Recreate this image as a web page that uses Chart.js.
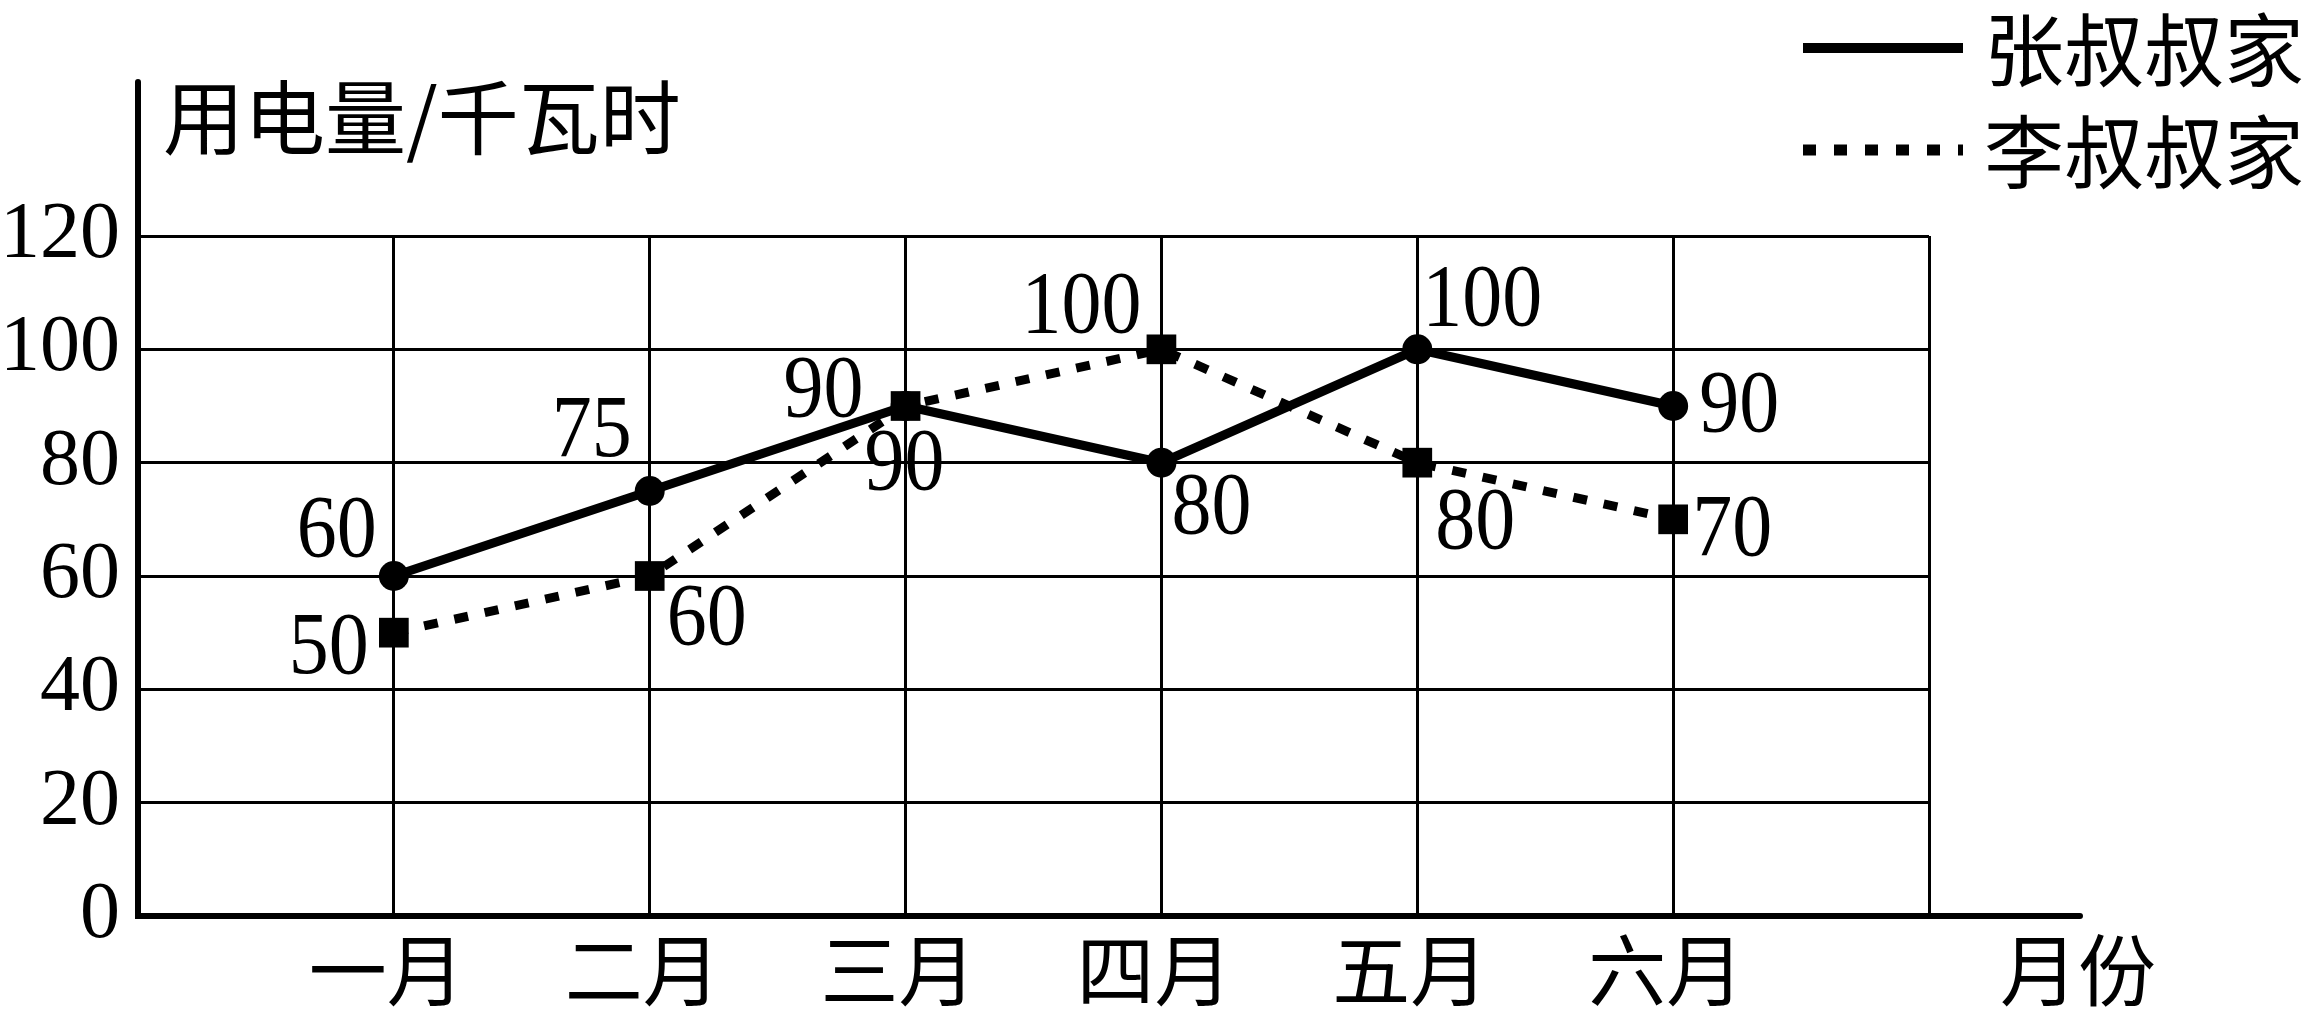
<!DOCTYPE html>
<html>
<head>
<meta charset="utf-8">
<script src="https://cdn.jsdelivr.net/npm/chart.js@4.4.1/dist/chart.umd.min.js"></script>
<style>
  html, body { margin: 0; padding: 0; background: #ffffff; }
  #wrap { width: 2317px; height: 1017px; position: relative; }
</style>
</head>
<body>
<div id="wrap"><canvas id="c" width="2317" height="1017"></canvas></div>
<script>
// ---- data ----
const categories = ['一月', '二月', '三月', '四月', '五月', '六月'];
const zhangValues = [60, 75, 90, 80, 100, 90];
const liValues = [50, 60, 90, 100, 80, 70];
const yTickValues = [0, 20, 40, 60, 80, 100, 120];
const seriesNames = ['张叔叔家', '李叔叔家'];
const yAxisTitle = '用电量/千瓦时';
const xAxisTitle = '月份';

// ---- label placement (layout only, offsets from each point) ----
const zhangLabelOffsets = [[-57, -49], [-58, -64], [-82, -19], [50, 42], [65, -53], [66, -4]];
const liLabelOffsets = [[-65, 12], [57, 39], [-1, 54], [-80, -46], [58, 57], [59, 7]];

const NUM_FONT = '"Liberation Serif", "Times New Roman", serif';
const CJK_FONT = '"Noto Sans CJK SC", "Noto Sans", sans-serif';
const DASH = [14, 17];

const toPoints = vals => vals.map((v, i) => ({ x: i + 1, y: v }));

const overlay = {
  id: 'overlay',
  afterDraw(chart) {
    const ctx = chart.ctx;
    const area = chart.chartArea;
    const xs = chart.scales.x, ys = chart.scales.y;
    ctx.save();
    // axis extensions beyond the grid
    ctx.strokeStyle = '#000';
    ctx.lineWidth = 6;
    ctx.lineCap = 'round';
    ctx.beginPath();
    ctx.moveTo(area.left, area.top);
    ctx.lineTo(area.left, 82);
    ctx.moveTo(area.right, area.bottom);
    ctx.lineTo(2080, area.bottom);
    ctx.stroke();

    // axis titles
    ctx.fillStyle = '#000';
    ctx.font = '81px ' + CJK_FONT;
    ctx.textAlign = 'left';
    ctx.textBaseline = 'middle';
    ctx.fillText(yAxisTitle, 163, 117);
    ctx.font = '78px ' + CJK_FONT;
    ctx.textAlign = 'center';
    ctx.fillText(xAxisTitle, 2078, 970);

    // legend
    const ds = chart.data.datasets;
    const legendRows = [48, 150];
    ds.forEach((d) => {
      const idx = seriesNames.indexOf(d.label);
      const y = legendRows[idx];
      ctx.save();
      ctx.strokeStyle = '#000';
      ctx.lineWidth = idx === 0 ? 10 : 11;
      ctx.lineCap = 'butt';
      ctx.setLineDash(idx === 0 ? [] : [13, 18]);
      ctx.beginPath();
      ctx.moveTo(1803, y);
      ctx.lineTo(1963, y);
      ctx.stroke();
      ctx.restore();
      ctx.font = '80px ' + CJK_FONT;
      ctx.textAlign = 'left';
      ctx.textBaseline = 'middle';
      ctx.fillText(d.label, 1984, y + 2);
    });

    // data labels
    ctx.font = '80px ' + NUM_FONT;
    ctx.textAlign = 'center';
    ctx.textBaseline = 'alphabetic';
    const drawLabels = (vals, offs) => {
      vals.forEach((v, i) => {
        const px = xs.getPixelForValue(i + 1);
        const py = ys.getPixelForValue(v);
        ctx.save();
        ctx.translate(px + offs[i][0], py + offs[i][1]);
        ctx.scale(1, 1.1);
        ctx.fillText(String(v), 0, 26);
        ctx.restore();
      });
    };
    drawLabels(zhangValues, zhangLabelOffsets);
    drawLabels(liValues, liLabelOffsets);
    ctx.restore();
  }
};

new Chart(document.getElementById('c'), {
  type: 'line',
  data: {
    datasets: [
      {
        label: seriesNames[0],
        data: toPoints(zhangValues),
        borderColor: '#000',
        backgroundColor: '#000',
        borderWidth: 9,
        pointStyle: 'circle',
        pointRadius: 15,
        pointBackgroundColor: '#000',
        pointBorderWidth: 0,
        order: 1
      },
      {
        label: seriesNames[1],
        data: toPoints(liValues),
        borderColor: '#000',
        backgroundColor: '#000',
        borderWidth: 9,
        borderDash: DASH,
        pointStyle: 'rect',
        pointRadius: 21,
        pointBackgroundColor: '#000',
        pointBorderWidth: 0,
        order: 0
      }
    ]
  },
  options: {
    responsive: false,
    animation: false,
    devicePixelRatio: 1,
    layout: { padding: { left: 0, top: 236, right: 388, bottom: 0 } },
    plugins: { legend: { display: false }, tooltip: { enabled: false }, title: { display: false } },
    scales: {
      x: {
        type: 'linear',
        min: 0,
        max: categories.length + 1,
        afterFit(s) { s.height = 101; },
        afterBuildTicks(s) {
          s.ticks = [];
          for (let i = 0; i <= categories.length + 1; i++) s.ticks.push({ value: i });
        },
        ticks: {
          autoSkip: false,
          maxRotation: 0,
          color: '#000',
          padding: 8,
          labelOffset: -7,
          font: { family: CJK_FONT, size: 78 },
          callback: v => (v >= 1 && v <= categories.length) ? categories[v - 1] : ''
        },
        grid: { color: '#000', lineWidth: 3, drawTicks: false },
        border: { color: '#000', width: 6 }
      },
      y: {
        type: 'linear',
        min: yTickValues[0],
        max: yTickValues[yTickValues.length - 1],
        afterFit(s) { s.width = 138; },
        afterBuildTicks(s) { s.ticks = yTickValues.map(v => ({ value: v })); },
        ticks: {
          color: '#000',
          padding: 18,
          font: { family: NUM_FONT, size: 80 }
        },
        grid: { color: '#000', lineWidth: 3, drawTicks: false },
        border: { color: '#000', width: 6 }
      }
    }
  },
  plugins: [overlay]
});
</script>
</body>
</html>
